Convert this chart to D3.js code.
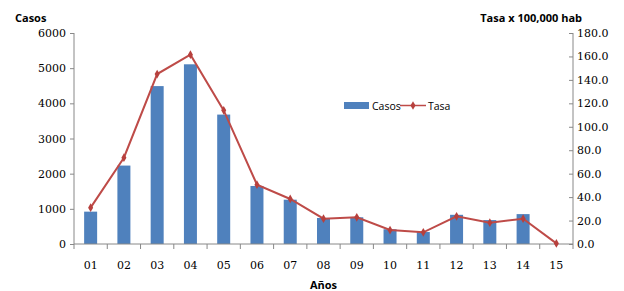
<!DOCTYPE html>
<html><head><meta charset="utf-8">
<script src="https://cdn.jsdelivr.net/npm/d3@7"></script>
<style>body{margin:0;background:#fff}svg{display:block}</style>
</head><body>
<svg id="c" width="624" height="291"></svg>
<script>
const years = ["01","02","03","04","05","06","07","08","09","10","11","12","13","14","15"];
const casos = [920, 2230, 4490, 5110, 3680, 1650, 1260, 740, 760, 420, 340, 830, 680, 850, 0];
const tasa = [31.0, 73.6, 145.0, 161.5, 114.0, 50.6, 38.4, 21.6, 22.8, 11.9, 10.0, 23.6, 18.2, 21.6, 0.5];
const leftTicks = [0, 1000, 2000, 3000, 4000, 5000, 6000];
const rightTicks = [0, 20, 40, 60, 80, 100, 120, 140, 160, 180];

const svg = d3.select("#c");
const L = 74, R = 573, T = 33, B = 244;
const x = d3.scaleBand().domain(years).range([L, R]);
const yL = d3.scaleLinear().domain([0, 6000]).range([B, T]);
const yR = d3.scaleLinear().domain([0, 180]).range([B, T]);
const axisCol = "#888";
const serif = "DejaVu Serif";
const sans = "Open Sans";

// bars
const bw = 13;
svg.append("g").selectAll("rect").data(years).join("rect")
  .attr("x", d => x(d) + x.bandwidth()/2 - bw/2)
  .attr("y", (d,i) => yL(casos[i]))
  .attr("width", bw)
  .attr("height", (d,i) => B - yL(casos[i]))
  .attr("fill", "#4F81BD");

// axes
const gl = svg.append("g").attr("transform", `translate(${L},0)`)
  .call(d3.axisLeft(yL).tickValues(leftTicks).tickSize(4).tickPadding(4).tickFormat(d3.format("d")));
const gr = svg.append("g").attr("transform", `translate(${R},0)`)
  .call(d3.axisRight(yR).tickValues(rightTicks).tickSize(0).tickPadding(4).tickFormat(d3.format(".1f")));
gr.selectAll(".tick line").attr("x1", -4).attr("x2", 0);
const gb = svg.append("g").attr("transform", `translate(0,${B})`)
  .call(d3.axisBottom(x).tickSize(0).tickPadding(17));
// category boundary ticks
const bounds = d3.range(years.length + 1).map(i => L + i * x.step());
gb.selectAll(".bt").data(bounds).join("line").attr("class","bt")
  .attr("x1", d => d).attr("x2", d => d).attr("y1", 0).attr("y2", 5).attr("stroke", axisCol);

[gl, gr, gb].forEach(g => {
  g.select(".domain").attr("stroke", axisCol);
  g.selectAll(".tick line").attr("stroke", axisCol);
  g.selectAll("text").attr("font-family", serif).attr("font-size", 11).attr("fill", "#000");
});
gb.select(".domain").attr("d", `M${L},0H${R}`);
gl.select(".domain").attr("d", `M0,${B}V${T}`);
gr.select(".domain").attr("d", `M0,${B}V${T}`);

// line
const line = d3.line().x((d,i) => x(years[i]) + x.bandwidth()/2).y(d => yR(d));
svg.append("path").datum(tasa).attr("d", line).attr("fill", "none")
  .attr("stroke", "#BE4B48").attr("stroke-width", 2);
const sym = d3.symbol().type(d3.symbolDiamond).size(22);
svg.append("g").selectAll("path").data(tasa).join("path")
  .attr("transform", (d,i) => `translate(${x(years[i]) + x.bandwidth()/2},${yR(d)})`)
  .attr("d", sym).attr("fill", "#B7403D");

// titles
svg.append("text").attr("x", 15).attr("y", 22).text("Casos")
  .attr("font-family", sans).attr("font-weight", "bold").attr("font-size", 11);
svg.append("text").attr("x", 582).attr("y", 22).attr("text-anchor", "end").text("Tasa x 100,000 hab")
  .attr("font-family", sans).attr("font-weight", "bold").attr("font-size", 11);
svg.append("text").attr("x", (L + R) / 2).attr("y", 289).attr("text-anchor", "middle").text("Años")
  .attr("font-family", sans).attr("font-weight", "bold").attr("font-size", 11);

// legend
const lg = svg.append("g");
lg.append("rect").attr("x", 344).attr("y", 102).attr("width", 25).attr("height", 7).attr("fill", "#4F81BD");
lg.append("text").attr("x", 372).attr("y", 109.5).text("Casos").attr("font-family", sans).attr("font-size", 10.5);
lg.append("line").attr("x1", 400).attr("x2", 426).attr("y1", 105.5).attr("y2", 105.5)
  .attr("stroke", "#BE4B48").attr("stroke-width", 1.5);
lg.append("path").attr("transform", "translate(413,105.5)").attr("d", sym).attr("fill", "#B7403D");
lg.append("text").attr("x", 428).attr("y", 109.5).text("Tasa").attr("font-family", sans).attr("font-size", 10.5);
</script>
</body></html>
